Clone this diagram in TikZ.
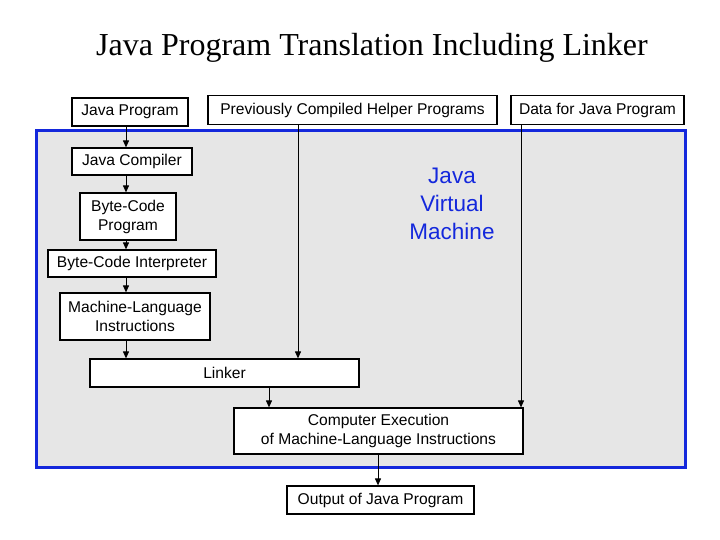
\documentclass[tikz,border=0pt]{standalone}
\usepackage{fontspec}
\setmainfont{Liberation Sans}
\newfontfamily\titlefont{Liberation Serif}
\usetikzlibrary{arrows.meta}
\definecolor{jvmblue}{RGB}{20,40,220}
\definecolor{jvmgray}{RGB}{230,230,230}
\begin{document}
\begin{tikzpicture}[x=1pt,y=-1pt,>={Triangle[length=7pt,width=6pt]},
    box/.style={draw,fill=white,line width=1.2pt,inner sep=0pt,align=center,font=\fontsize{15.6}{19}\selectfont}]
    \useasboundingbox (0,0) rectangle (720,540);
    \tikzstyle{flow}=[->,line width=1pt]

    % title and machine frame
    \node (title) at (372,48) {\titlefont\fontsize{32}{35}\selectfont Java Program Translation Including Linker};
    \draw[jvmblue,line width=3pt,fill=jvmgray] (36,131) rectangle (685,467);
    \node[text=jvmblue,align=center,font=\fontsize{22.5}{28}\selectfont] (jvm) at (452,204) {Java\\Virtual\\Machine};

    % boxes
    \node[box,minimum width=116pt,minimum height=28pt] (prog) at (130,112) {Java Program};
    \node[box,minimum width=289pt,minimum height=29pt] (helper) at (352.5,110) {Previously Compiled Helper Programs};
    \node[box,minimum width=173pt,minimum height=29pt] (data) at (597.5,110) {Data for Java Program};
    \node[box,minimum width=120pt,minimum height=27pt] (comp) at (132,161.5) {Java Compiler};
    \node[box,minimum width=96pt,minimum height=47pt] (bytes) at (128,216.5) {Byte-Code\\Program};
    \node[box,minimum width=168pt,minimum height=27pt] (interp) at (132,263.5) {Byte-Code Interpreter};
    \node[box,minimum width=150pt,minimum height=47pt] (mach) at (135,316.5) {Machine-Language\\Instructions};
    \node[box,minimum width=269pt,minimum height=28pt] (link) at (224.5,373) {Linker};
    \node[box,minimum width=289pt,minimum height=46pt] (exec) at (378.5,431) {Computer Execution\\of Machine-Language Instructions};
    \node[box,minimum width=187pt,minimum height=28pt] (out) at (380.5,500) {Output of Java Program};

    % connectors
    \draw[flow] (prog.south -| 126,0) -- (comp.north -| 126,0);
    \draw[flow] (comp.south -| 126,0) -- (bytes.north -| 126,0);
    \draw[flow] (bytes.south -| 126,0) -- (interp.north -| 126,0);
    \draw[flow] (interp.south -| 126,0) -- (mach.north -| 126,0);
    \draw[flow] (mach.south -| 126,0) -- (link.north -| 126,0);
    \draw[flow] (helper.south -| 298,0) -- (link.north -| 298,0);
    \draw[flow] (link.south -| 269,0) -- (exec.north -| 269,0);
    \draw[flow] (data.south -| 521,0) -- (exec.north -| 521,0);
    \draw[flow] (exec.south -| 378,0) -- (out.north -| 378,0);
\end{tikzpicture}
\end{document}
